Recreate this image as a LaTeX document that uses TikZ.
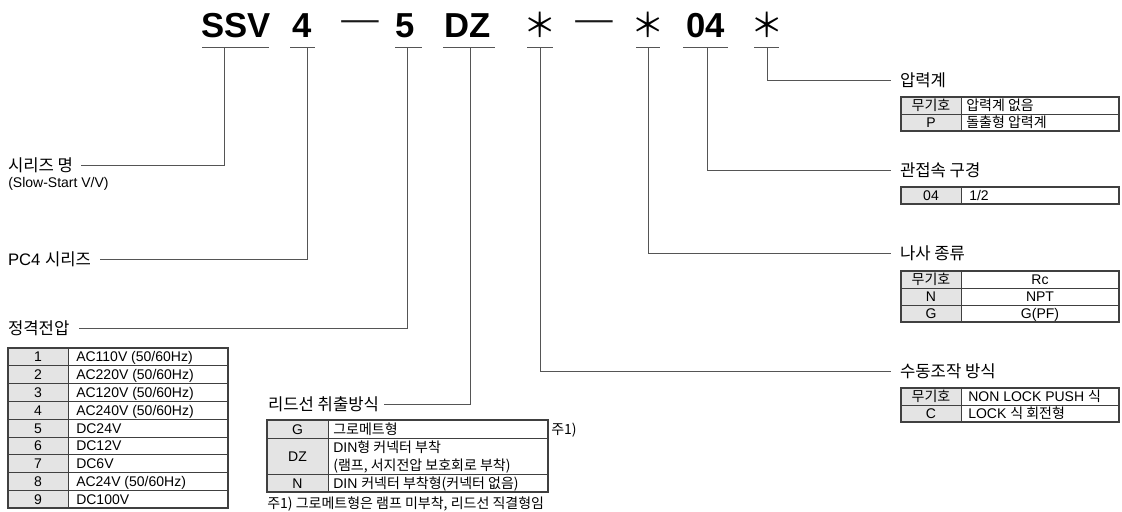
\documentclass[tikz,border=0pt]{standalone}
\usepackage{fontspec}
\setmainfont{Liberation Sans}
\newfontfamily\kr{Noto Sans CJK KR}
\newcommand\K[1]{{\kr #1}}
\definecolor{cellgray}{HTML}{E4E4E4}
\definecolor{linegray}{HTML}{555555}
\definecolor{framegray}{HTML}{404040}
\begin{document}
\begin{tikzpicture}[x=0.75pt,y=-0.75pt,
  code/.style={font=\fontsize{26}{26}\selectfont\bfseries, inner sep=0, anchor=base},
  ast/.style={font=\kr\fontsize{25}{25}\selectfont, text=black, inner sep=0, anchor=center},
  dsh/.style={font=\kr\fontsize{26}{26}\selectfont, text=black!90, inner sep=0, anchor=center},
  uline/.style={draw=linegray, line width=0.75pt},
  conn/.style={draw=linegray, line width=0.75pt},
  lab/.style={font=\kr\fontsize{12.5}{12.5}\selectfont, inner sep=0, outer sep=0, anchor=west},
  cell/.style={font=\fontsize{10.5}{12}\selectfont, inner sep=0, anchor=base},
  cellw/.style={cell, anchor=base west},
  innerline/.style={draw=framegray, line width=0.6pt},
  frameline/.style={draw=framegray, line width=1pt},
]
\useasboundingbox (0,0) rectangle (1122,511);

% ---- code ----
\node[code] (cS) at (236,37) {SSV};
\node[code] (c4) at (302,37) {4};
\node[dsh]  (d1) at (360,26) {\scalebox{1.35}[1]{—}};
\node[code] (c5) at (405,37) {5};
\node[code] (cD) at (468,37) {DZ};
\node[ast]  (a1) at (540,25) {＊};
\node[dsh]  (d2) at (594,26) {\scalebox{1.35}[1]{—}};
\node[ast]  (a2) at (648,25) {＊};
\node[code] (c0) at (706,37) {04};
\node[ast]  (a3) at (767,25) {＊};

% underlines
\draw[uline] (202,47) -- (269,47);
\draw[uline] (290,47) -- (315,47);
\draw[uline] (395,47) -- (422,47);
\draw[uline] (443,47) -- (495,47);
\draw[uline] (527,47) -- (553,47);
\draw[uline] (636,47) -- (660,47);
\draw[uline] (683,47) -- (728,47);
\draw[uline] (754,47) -- (779,47);

\coordinate (t1) at (224,47);
\coordinate (t2) at (307,47);
\coordinate (t3) at (407,47);
\coordinate (t4) at (470,47);
\coordinate (t5) at (540,47);
\coordinate (t6) at (648,47);
\coordinate (t7) at (707,47);
\coordinate (t8) at (767,47);

% ---- labels ----
\node[lab] (ls) at (8,165) {시리즈 명};
\node[cellw] (lsub) at (8,187) {(Slow-Start V/V)};
\node[lab] (lp) at (8,259) {\normalfont PC4 \kr 시리즈};
\node[lab] (lv) at (8,328) {정격전압};
\node[lab] (ll) at (268,404) {리드선 취출방식};
\node[lab] (lg) at (900,80) {압력계};
\node[lab] (lpt) at (900,170) {관접속 구경};
\node[lab] (lt) at (900,253) {나사 종류};
\node[lab] (lm) at (900,371) {수동조작 방식};

% ---- connectors ----
\draw[conn] (t1) |- ([xshift=6pt]ls.east);
\draw[conn] (t2) |- ([xshift=7pt]lp.east);
\draw[conn] (t3) |- ([xshift=7pt]lv.east);
\draw[conn] (t4) |- ([xshift=4pt]ll.east);
\draw[conn] (t5) |- ([xshift=-7pt]lm.west);
\draw[conn] (t6) |- ([xshift=-7pt]lt.west);
\draw[conn] (t7) |- ([xshift=-7pt]lpt.west);
\draw[conn] (t8) |- ([xshift=-7pt]lg.west);

% ---- table: rated voltage ----
\fill[cellgray] (8,348) rectangle (68,508);
\foreach \i in {1,...,8} \draw[innerline] (8,{348+17.78*\i}) -- (228,{348+17.78*\i});
\draw[innerline] (68,348) -- (68,508);
\draw[frameline] (8,348) rectangle (228,508);
\foreach \k/\t [count=\i] in {1/{AC110V (50/60Hz)}, 2/{AC220V (50/60Hz)}, 3/{AC120V (50/60Hz)}, 4/{AC240V (50/60Hz)}, 5/DC24V, 6/DC12V, 7/DC6V, 8/{AC24V (50/60Hz)}, 9/DC100V} {
  \node[cell] (vk\i) at (38,{348+17.78*(\i-0.5)+5}) {\k};
  \node[cellw] (vt\i) at (76,{348+17.78*(\i-0.5)+5}) {\t};
}

% ---- table: lead wire ----
\fill[cellgray] (267,420) rectangle (328,492);
\draw[innerline] (267,438) -- (548,438);
\draw[innerline] (267,474) -- (548,474);
\draw[innerline] (328,420) -- (328,492);
\draw[frameline] (267,420) rectangle (548,492);
\node[cell] (lk1) at (297.5,434) {G};
\node[cellw] (lt1) at (333,434) {\K{그로메트형}};
\node[cell] (lk2) at (297.5,461) {DZ};
\node[cellw] (lt2a) at (333,452) {DIN\K{형 커넥터 부착}};
\node[cellw] (lt2b) at (333,470) {\K{(램프, 서지전압 보호회로 부착)}};
\node[cell] (lk3) at (297.5,488) {N};
\node[cellw] (lt3) at (333,488) {DIN \K{커넥터 부착형(커넥터 없음)}};
\node[cellw] (note1) at (551,434) {\K{주1)}};
\node[cellw] (note) at (267,508) {\K{주1) 그로메트형은 램프 미부착, 리드선 직결형임}};

% ---- table: pressure gauge ----
\fill[cellgray] (901,97) rectangle (961,131);
\draw[innerline] (901,114) -- (1119,114);
\draw[innerline] (961,97) -- (961,131);
\draw[frameline] (901,97) rectangle (1119,131);
\node[cell] (gk1) at (931,110.5) {\K{무기호}};
\node[cellw] (gt1) at (966,110.5) {\K{압력계 없음}};
\node[cell] (gk2) at (931,127.5) {P};
\node[cellw] (gt2) at (966,127.5) {\K{돌출형 압력계}};

% ---- table: port size ----
\fill[cellgray] (901,187) rectangle (961,204);
\draw[innerline] (961,187) -- (961,204);
\draw[frameline] (901,187) rectangle (1119,204);
\node[cell] (pk1) at (931,200.5) {04};
\node[cellw] (pt1) at (969,200.5) {1/2};

% ---- table: thread ----
\fill[cellgray] (901,271) rectangle (961,322);
\draw[innerline] (901,288) -- (1119,288);
\draw[innerline] (901,305) -- (1119,305);
\draw[innerline] (961,271) -- (961,322);
\draw[frameline] (901,271) rectangle (1119,322);
\node[cell] (sk1) at (931,284.5) {\K{무기호}};
\node[cell] (st1) at (1040,284.5) {Rc};
\node[cell] (sk2) at (931,301.5) {N};
\node[cell] (st2) at (1040,301.5) {NPT};
\node[cell] (sk3) at (931,318.5) {G};
\node[cell] (st3) at (1040,318.5) {G(PF)};

% ---- table: manual operation ----
\fill[cellgray] (901,388) rectangle (961,422);
\draw[innerline] (901,405) -- (1119,405);
\draw[innerline] (961,388) -- (961,422);
\draw[frameline] (901,388) rectangle (1119,422);
\node[cell] (mk1) at (931,401.5) {\K{무기호}};
\node[cellw] (mt1) at (968,401.5) {NON LOCK PUSH \K{식}};
\node[cell] (mk2) at (931,418.5) {C};
\node[cellw] (mt2) at (968,418.5) {LOCK \K{식 회전형}};
\end{tikzpicture}
\end{document}
